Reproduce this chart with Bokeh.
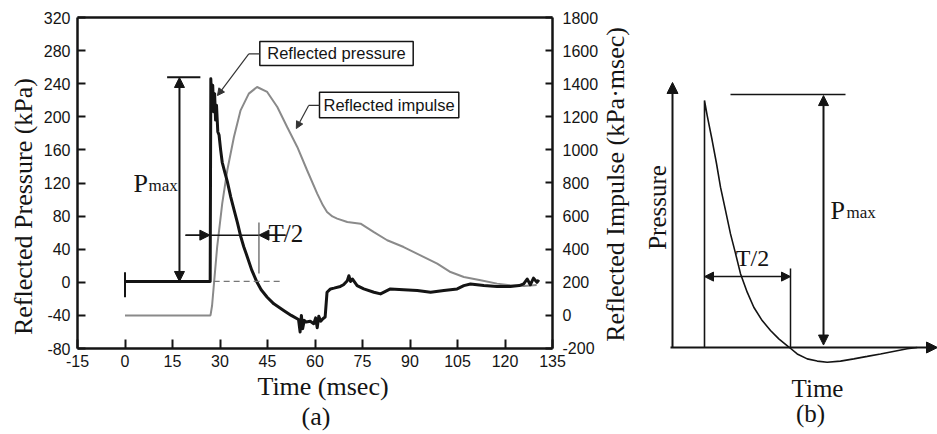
import math
from bokeh.plotting import figure
from bokeh.models import (Range1d, LinearAxis, FixedTicker, Label, Arrow, NormalHead, BoxAnnotation,
                          PrintfTickFormatter)
from bokeh.embed import file_html
from bokeh.resources import INLINE

# ---------------- data (panel a) ----------------
pressure_time_ms = [0, 26.9, 27.1, 27.4, 27.7, 28.0, 28.3, 28.6, 28.9, 29.3, 29.7, 30.2, 30.7, 31.5, 32.3,
                    33.4, 34.4, 35.5, 36.5, 37.5, 38.6, 40.0, 41.7, 43.0, 44.9, 47.0, 50.1, 52.5, 54.8,
                    55.3, 55.7, 56.1, 56.6, 57.2, 58.5, 59.6, 60.2, 60.7, 61.2, 61.8, 62.5, 63.2, 63.8,
                    64.9, 66.0, 68.0, 69.0, 70.2, 70.7, 71.2, 71.8, 73.3, 75.4, 78.6, 80.7, 83.8, 88.0,
                    92.3, 96.5, 100.7, 104.9, 107.0, 109.1, 113.3, 117.5, 121.7, 124.5, 125.9, 127.0,
                    128.0, 129.0, 130.1, 130.7]
pressure_kpa = [1, 1, 246, 215, 238, 206, 228, 196, 214, 182, 178, 160, 145, 133, 122,
                103, 88, 72, 56, 43, 31, 15, 0, -9, -18, -26, -34, -40, -45,
                -60, -40, -56, -46, -48, -47, -50, -43, -55, -41, -47, -44, -42, -12,
                -8, -7, -5, -3, 2, 8, 1, 4, -4, -8, -12, -14, -8, -9,
                -10, -12, -10, -8, -4, -2, -4, -5, -5, -4, -2, 4,
                -3, 5, 0, 3]

impulse_time_ms = [0, 27.0, 27.5, 28.0, 29.1, 30.7, 32.3, 34.4, 36.5, 39.1, 41.7, 44.9, 48.1, 51.2,
                   54.4, 57.5, 60.7, 62.5, 63.8, 65.5, 67.0, 70.2, 74.4, 78.6, 82.8, 88.0, 93.3, 98.6,
                   102.8, 107.0, 112.3, 117.5, 121.7, 126.0, 130.0]
impulse_kpa_ms = [0, 0, 60, 171, 413, 675, 877, 1078, 1239, 1340, 1380, 1350, 1259, 1138,
                  1018, 877, 736, 665, 625, 598, 585, 564, 554, 503, 454, 413, 363, 313,
                  262, 232, 212, 192, 182, 178, 183]

time_ticks = [-15, 0, 15, 30, 45, 60, 75, 90, 105, 120, 135]
pressure_ticks = [-80, -40, 0, 40, 80, 120, 160, 200, 240, 280, 320]
impulse_ticks = [-200, 0, 200, 400, 600, 800, 1000, 1200, 1400, 1600, 1800]

# ---------------- data (panel b, schematic, arbitrary units) ----------------
schem_time = [1.6, 1.6, 1.735, 1.985, 2.2, 2.4, 2.65, 2.9, 3.15, 3.4, 3.735, 4.065, 4.485, 4.9,
              5.315, 5.85, 6.235, 6.735, 7.235, 7.735, 8.4, 9.065, 9.735, 10.4, 11.735, 12.235]
schem_pressure = [0.0, 1.0, 0.939, 0.838, 0.745, 0.649, 0.555, 0.460, 0.381, 0.299, 0.224, 0.163,
                  0.109, 0.069, 0.035, 0.0, -0.026, -0.046, -0.055, -0.060, -0.055, -0.046,
                  -0.036, -0.026, -0.005, 0.0]

INK = "#141414"
SERIF = "Liberation Serif"
SANS = "Liberation Sans"

# one canvas; panel (a) axes are drawn at fixed locations inside it
p = figure(width=937, height=434,
           x_range=Range1d(-39.316, 256.579), y_range=Range1d(-183.927, 340.544),
           output_backend="svg", toolbar_location=None,
           x_axis_location=None, y_axis_location=None, min_border=0)
p.extra_y_ranges = {"imp": Range1d(-719.64, 1902.72), "by": Range1d(-0.3522, 1.4049)}
p.extra_x_ranges = {"bx": Range1d(-33.6, 13.25)}
p.xgrid.visible = False
p.ygrid.visible = False
p.outline_line_color = None
p.background_fill_color = "white"
p.border_fill_color = "white"

x_axis = LinearAxis(fixed_location=-80, bounds=(-15, 135), ticker=FixedTicker(ticks=time_ticks))
y_axis = LinearAxis(fixed_location=-15, bounds=(-80, 320), ticker=FixedTicker(ticks=pressure_ticks))
r_axis = LinearAxis(y_range_name="imp", fixed_location=135, bounds=(-200, 1800),
                    ticker=FixedTicker(ticks=impulse_ticks))
p.add_layout(x_axis, "below")
p.add_layout(y_axis, "left")
p.add_layout(r_axis, "right")
for ax in (x_axis, y_axis, r_axis):
    ax.formatter = PrintfTickFormatter(format="%d")
    ax.axis_line_width = 2.5
    ax.axis_line_color = INK
    ax.major_tick_out = 0
    ax.major_tick_in = 8
    ax.major_tick_line_width = 2
    ax.major_tick_line_color = INK
    ax.minor_tick_line_color = None
    ax.major_label_text_font = SANS
    ax.major_label_text_font_size = "16px"
    ax.major_label_text_color = INK
x_axis.major_tick_in = 9
x_axis.major_label_standoff = 6
y_axis.major_label_standoff = 7
r_axis.major_label_standoff = 10
r_axis.major_tick_in = 7


def head(size=10, color=INK):
    return NormalHead(size=size, fill_color=color, line_color=color, line_width=1)


def seg(x0, y0, x1, y1, color=INK, width=1.5, dash="solid", start=None, end=None, b=False):
    kw = dict(x_range_name="bx", y_range_name="by") if b else {}
    p.add_layout(Arrow(x_start=x0, y_start=y0, x_end=x1, y_end=y1, start=start, end=end,
                       line_color=color, line_width=width, line_dash=dash, **kw))


def text(x, y, t, size, font=SERIF, align="left", baseline="alphabetic", angle=0.0, b=False):
    kw = dict(x_range_name="bx", y_range_name="by") if b else {}
    p.add_layout(Label(x=x, y=y, text=t, text_font=font, text_font_size=size, text_color=INK,
                       text_align=align, text_baseline=baseline, angle=angle, **kw))


# top edge of the panel (a) frame
seg(-15, 320, 135, 320, width=2.5)

# data curves, panel (a)
p.line(impulse_time_ms, impulse_kpa_ms, y_range_name="imp", line_color="#8a8a8a", line_width=2)
p.line(pressure_time_ms, pressure_kpa, line_color=INK, line_width=3, line_join="round")

# annotations, panel (a)
seg(0, 12, 0, -18, width=2)
seg(13.3, 247.9, 23.8, 247.9, width=2)
seg(17.2, 1, 17.2, 247.5, width=2, start=head(10), end=head(10))
seg(19.1, 57, 50.7, 57, width=1.5)
seg(19.1, 57, 26.8, 57, width=1.5, end=head(10))
seg(50.7, 57, 42.3, 57, width=1.5, end=head(10))
seg(42.3, 72.3, 42.3, 10.6, color="#555555", width=1.2)
seg(28, 1, 49, 1, color="#777777", width=1.2, dash="6 4")

p.add_layout(BoxAnnotation(left=42.57, right=91.01, bottom=262.0, top=291.0, fill_color="white",
                           fill_alpha=1, line_color=INK, line_width=1.5, line_alpha=1))
p.add_layout(BoxAnnotation(left=61.42, right=105.41, bottom=198.8, top=229.7, fill_color="white",
                           fill_alpha=1, line_color=INK, line_width=1.5, line_alpha=1))
text(66.79, 276.5, "Reflected pressure", "16.5px", font=SANS, align="center", baseline="middle")
text(83.4, 214.3, "Reflected impulse", "16.5px", font=SANS, align="center", baseline="middle")
seg(42.57, 276.1, 39.09, 276.1, color="#333333", width=1.2)
seg(39.09, 276.1, 29.2, 225.7, color="#333333", width=1.2, end=head(7, "#333333"))
seg(61.42, 213.7, 58.0, 213.7, color="#333333", width=1.2)
seg(58.0, 213.7, 54.1, 185.8, color="#333333", width=1.2, end=head(7, "#333333"))

text(2.68, 119.4, "P", "26px")
text(7.42, 117.0, "max", "17px")
text(45.3, 59.0, "T/2", "25px")

# axis titles and caption, panel (a)
text(-32.05, 91.6, "Reflected Pressure (kPa)", "26px", align="center", baseline="middle",
     angle=math.pi / 2)
text(154.9, 118.2, "Reflected Impulse (kPa\u00b7msec)", "26px", align="center", baseline="middle",
     angle=math.pi / 2)
text(62.53, -125.9, "Time (msec)", "26px", align="center", baseline="middle")
text(60.3, -162.2, "(a)", "26px", align="center", baseline="middle")

# ---------------- panel (b) schematic ----------------
p.line(schem_time, schem_pressure, x_range_name="bx", y_range_name="by", line_color=INK, line_width=1.6)

seg(0, 0, 0, 1.073, width=2, end=head(11), b=True)
seg(-0.1, 0, 13.25, 0, width=2, end=head(11), b=True)
seg(5.9, 0, 5.9, 0.32, width=1.5, b=True)
seg(1.6, 0.287, 5.9, 0.287, width=1.5, start=head(9), end=head(9), b=True)
seg(7.55, 0.01, 7.55, 1.02, width=2, start=head(10), end=head(10), b=True)
seg(2.9, 1.024, 8.65, 1.024, width=1.5, b=True)

text(-0.75, 0.567, "Pressure", "25px", align="center", baseline="middle", angle=math.pi / 2, b=True)
text(4.0, 0.364, "T/2", "24px", align="center", baseline="middle", b=True)
text(7.9, 0.555, "P", "26px", b=True)
text(8.7, 0.547, "max", "17px", b=True)
text(7.25, -0.166, "Time", "25px", align="center", baseline="middle", b=True)
text(6.9, -0.267, "(b)", "25px", align="center", baseline="middle", b=True)

open("out.html", "w").write(file_html(p, INLINE))
